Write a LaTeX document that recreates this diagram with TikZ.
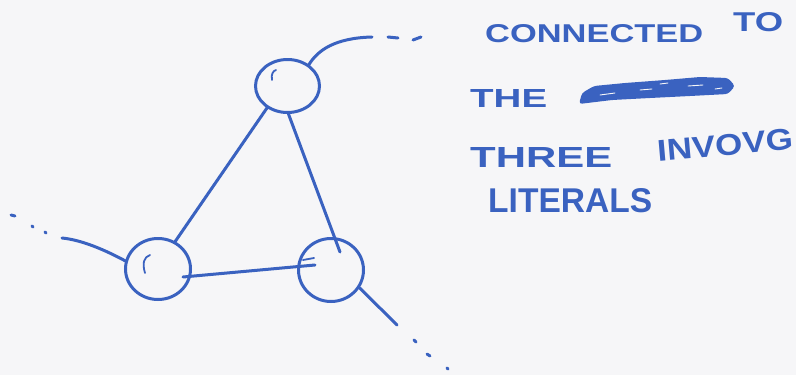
\documentclass[tikz,border=0pt]{standalone}
\usepackage{fontspec}
\setmainfont{Liberation Sans}
\usetikzlibrary{shapes.geometric}
\definecolor{ink}{RGB}{58,98,192}
\definecolor{paper}{RGB}{246,246,248}
\newcommand\handword[3]{\resizebox{#1pt}{#2pt}{\bfseries #3}}
\begin{document}
\begin{tikzpicture}[x=1pt,y=-1pt,
  pen/.style={draw=ink,line width=3pt,line cap=round,line join=round},
  thinpen/.style={draw=ink,line width=1.8pt,line cap=round},
  ring/.style={ellipse,draw=ink,line width=3pt,inner sep=0pt},
  word/.style={text=ink,inner sep=0pt,anchor=west}]
\fill[paper] (0,0) rectangle (796,375);
\useasboundingbox (0,0) rectangle (796,375);

% circles
\node[ring,minimum width=64pt,minimum height=53pt] (top) at (287.5,86) {};
\node[ring,minimum width=65pt,minimum height=61pt] (bl) at (158,269) {};
\node[ring,minimum width=65pt,minimum height=63pt] (br) at (331,270) {};

% pen-start ticks inside circles
\draw[thinpen] (272,80) .. controls (271,74) and (273,71) .. (276,70);
\draw[thinpen] (145,273) .. controls (142,263) and (144,257) .. (150,255);
\draw[thinpen] (303,260) -- (314,258);

% triangle edges
\draw[pen] (top.227) -- (bl.58);
\draw[pen] (top.-88) -- ([shift={(9,-18)}]br.center);
\draw[pen] ([shift={(25,8)}]bl.center) -- ([shift={(-16,-5)}]br.center);

% outgoing tails
\coordinate (t1) at (372,37);
\draw[pen] (top.45) .. controls (318,50) and (335,38) .. (t1);
\draw[pen] (388,37) -- (398,38);
\draw[pen] (413,40) -- (421,37);

\coordinate (t2) at (62,238);
\draw[pen] (bl.166) .. controls (105,250) and (82,240) .. (t2);
\draw[pen] (11,215) -- (15,216);
\draw[pen] (32,226) -- (33,227);
\draw[pen] (45,232) -- (46,233);

\coordinate (t3) at (397,325);
\draw[pen] (br.-32) -- (t3);
\draw[pen] (414,340) -- (416,342);
\draw[pen] (427,354) -- (430,356);
\draw[pen] (447,368) -- (448,369);

% text
\node[word] (w1) at (485,34) {\handword{218}{18}{CONNECTED}};
\node[word] (w2) at (733,22) {\handword{50}{19}{TO}};
\node[word] (w3) at (470,98) {\handword{77}{18}{THE}};
\node[word] (w4) at (470,157) {\handword{142}{20}{THREE}};
\node[word,rotate=5] (w5) at (657,151) {\handword{136}{21}{INVOVG}};
\node[word] (w6) at (488,201) {\handword{164}{24}{LITERALS}};

% scribbled-out word
\fill[ink,rounded corners=3pt] (579,104) -- (582,93) -- (594,86) -- (625,83) -- (665,80) -- (700,77)
  -- (728,78) -- (735,86) -- (728,94) -- (690,96) -- (650,98) -- (612,100) -- cycle;
\draw[paper,line width=0.9pt,line cap=round] (600,95) -- (615,93) (640,90) -- (652,89)
  (688,86) -- (703,85) (715,89) -- (722,88) (660,84) -- (668,83);
\end{tikzpicture}
\end{document}
